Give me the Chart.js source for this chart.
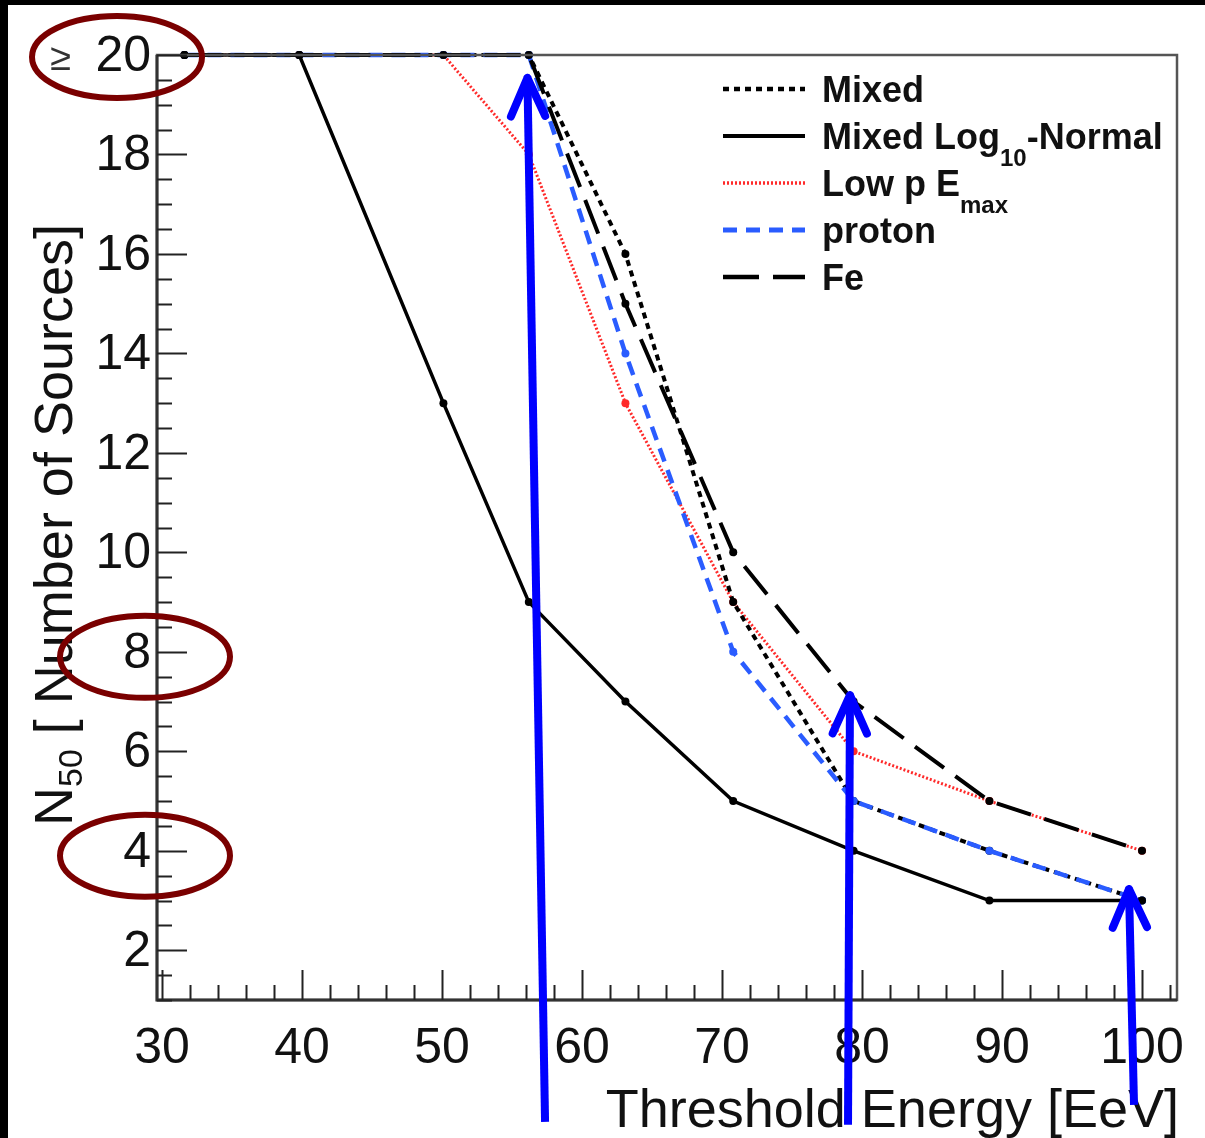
<!DOCTYPE html>
<html>
<head>
<meta charset="utf-8">
<script src="https://cdn.jsdelivr.net/npm/chart.js@4.4.1/dist/chart.umd.min.js"></script>
<style>
  html, body { margin: 0; padding: 0; background: #fff; }
  #wrap { width: 1205px; height: 1138px; }
</style>
</head>
<body>
<div id="wrap"><canvas id="chart" width="1205" height="1138"></canvas></div>
<script>
// N50 vs threshold energy, ROOT-style plot redrawn with Chart.js

// Data
const energies = [31.6, 39.8, 50.1, 56.2, 63.1, 70.8, 79.4, 89.1, 100];
const mixed = [20, 20, 20, 20, 16, 9, 5, 4, 3];
const mixedLogNormal = [20, 20, 13, 9, 7, 5, 4, 3, 3];
const lowPEmax = [20, 20, 20, 18, 13, 9, 6, 5, 4];
const proton = [20, 20, 20, 20, 14, 8, 5, 4, 3];
const fe = [20, 20, 20, 20, 15, 10, 7, 5, 4];

// Axes
const xTicks = [30, 40, 50, 60, 70, 80, 90, 100];
const yTicks = [2, 4, 6, 8, 10, 12, 14, 16, 18, 20];
const xTitle = 'Threshold Energy [EeV]';

// Highlighted y labels (red ovals) and arrows (in data units)
const circledTicks = [20, 8, 4];
const arrows = [
    { from: [57.36, -1.45], to: [56.1, 19.54] },
    { from: [79.0, -1.51], to: [79.14, 7.13] },
    { from: [99.43, -1.11], to: [99.07, 3.23] }
];

const FONT = '"Liberation Sans", Arial, Helvetica, sans-serif';

function pts(values) {
    return energies.map((e, i) => ({ x: e, y: values[i] }));
}

function series(label, values, color, dash, width, order) {
    return {
        label: label,
        data: pts(values),
        borderColor: color,
        backgroundColor: color,
        borderWidth: width,
        borderDash: dash,
        pointRadius: 4,
        pointBorderWidth: 0,
        pointBackgroundColor: color,
        tension: 0,
        clip: false,
        order: order
    };
}

// legend label parts: [text, isSubscript]
const legendParts = [
    [['Mixed', false]],
    [['Mixed Log', false], ['10', true], ['-Normal', false]],
    [['Low p E', false], ['max', true]],
    [['proton', false]],
    [['Fe', false]]
];

const rootStyle = {
    id: 'rootStyle',
    beforeDraw(chart) {
        const ctx = chart.ctx;
        ctx.save();
        ctx.fillStyle = '#fff';
        ctx.fillRect(0, 0, chart.width, chart.height);
        ctx.fillStyle = '#000';
        ctx.fillRect(0, 0, chart.width, 5);
        ctx.fillRect(0, 0, 8, chart.height);
        ctx.restore();
    },
    afterDraw(chart) {
        const ctx = chart.ctx;
        const xs = chart.scales.x, ys = chart.scales.y;
        const a = chart.chartArea;
        ctx.save();

        // frame
        ctx.strokeStyle = '#555';
        ctx.lineWidth = 2.5;
        ctx.strokeRect(a.left, a.top, a.right - a.left, a.bottom - a.top);
        ctx.strokeStyle = '#333';
        ctx.lineWidth = 3;
        ctx.beginPath();
        ctx.moveTo(a.left, a.top);
        ctx.lineTo(a.left, a.bottom);
        ctx.lineTo(a.right, a.bottom);
        ctx.stroke();

        // ticks
        ctx.strokeStyle = '#222';
        ctx.lineWidth = 2;
        ctx.beginPath();
        for (let v = 1; v <= 20; v += 0.5) {
            const y = Math.round(ys.getPixelForValue(v)) + 0.5;
            const len = (v % 2 === 0) ? 30 : 15;
            ctx.moveTo(a.left, y);
            ctx.lineTo(a.left + len, y);
        }
        for (let v = 30; v <= 102; v += 2) {
            const x = Math.round(xs.getPixelForValue(v)) + 0.5;
            const len = (v % 10 === 0) ? 30 : 15;
            ctx.moveTo(x, a.bottom);
            ctx.lineTo(x, a.bottom - len);
        }
        ctx.stroke();

        // tick labels
        ctx.fillStyle = '#111';
        ctx.font = '50px ' + FONT;
        ctx.textAlign = 'right';
        ctx.textBaseline = 'middle';
        yTicks.forEach(v => {
            ctx.fillText(String(v), 151, ys.getPixelForValue(v) + 2);
        });
        ctx.font = '38px ' + FONT;
        ctx.fillStyle = '#333';
        ctx.fillText('\u2265', 71, ys.getPixelForValue(20) + 5);
        ctx.fillStyle = '#111';
        ctx.font = '50px ' + FONT;
        ctx.textAlign = 'center';
        xTicks.forEach(v => {
            ctx.fillText(String(v), xs.getPixelForValue(v), 1049);
        });

        // x title
        ctx.font = '54px ' + FONT;
        ctx.textAlign = 'right';
        ctx.textBaseline = 'alphabetic';
        ctx.fillText(xTitle, a.right + 2, 1127);

        // y title (rotated, with subscript)
        ctx.save();
        const big = '54px ' + FONT, small = '34px ' + FONT;
        ctx.font = big;
        const wN = ctx.measureText('N').width;
        const wRest = ctx.measureText(' [ Number of Sources]').width;
        ctx.font = small;
        const wSub = ctx.measureText('50').width;
        const total = wN + wSub + wRest;
        ctx.translate(72, 224 + total);
        ctx.rotate(-Math.PI / 2);
        ctx.textAlign = 'left';
        ctx.font = big;
        ctx.fillText('N', 0, 0);
        ctx.font = small;
        ctx.fillText('50', wN, 10);
        ctx.font = big;
        ctx.fillText(' [ Number of Sources]', wN + wSub, 0);
        ctx.restore();

        // legend
        chart.data.datasets.forEach((ds, i) => {
            const cy = 89 + i * 47;
            ctx.save();
            ctx.strokeStyle = ds.borderColor;
            ctx.lineWidth = ds.borderWidth + 0.5;
            ctx.setLineDash(ds.borderDash || []);
            ctx.beginPath();
            ctx.moveTo(723, cy);
            ctx.lineTo(805, cy);
            ctx.stroke();
            ctx.restore();
            let x = 822;
            ctx.fillStyle = '#111';
            ctx.textAlign = 'left';
            ctx.textBaseline = 'alphabetic';
            legendParts[i].forEach(([t, sub]) => {
                ctx.font = (sub ? 'bold 24px ' : 'bold 36px ') + FONT;
                ctx.fillText(t, x, cy + 13 + (sub ? 17 : 0));
                x += ctx.measureText(t).width;
            });
        });

        // red ovals around selected y labels
        ctx.strokeStyle = '#7a0000';
        ctx.lineWidth = 6;
        circledTicks.forEach(v => {
            const cx = v === 20 ? 117 : 145;
            const cy = ys.getPixelForValue(v) + (v === 20 ? 2 : 5);
            ctx.beginPath();
            ctx.ellipse(cx, cy, 85, 41, 0, 0, Math.PI * 2);
            ctx.stroke();
        });

        // blue arrows
        ctx.strokeStyle = '#0000ff';
        ctx.lineWidth = 8;
        arrows.forEach(ar => {
            const x0 = xs.getPixelForValue(ar.from[0]), y0 = ys.getPixelForValue(ar.from[1]);
            const x1 = xs.getPixelForValue(ar.to[0]), y1 = ys.getPixelForValue(ar.to[1]);
            const ang = Math.atan2(y1 - y0, x1 - x0);
            ctx.lineCap = 'butt';
            ctx.beginPath();
            ctx.moveTo(x0, y0);
            ctx.lineTo(x1, y1);
            ctx.stroke();
            ctx.lineCap = 'round';
            ctx.beginPath();
            [-0.42, 0.42].forEach(d => {
                ctx.moveTo(x1, y1);
                ctx.lineTo(x1 - 42 * Math.cos(ang + d), y1 - 42 * Math.sin(ang + d));
            });
            ctx.stroke();
        });

        ctx.restore();
    }
};

new Chart(document.getElementById('chart').getContext('2d'), {
    type: 'line',
    data: {
        datasets: [
            series('Mixed', mixed, '#000', [6, 5], 4, 3),
            series('Mixed Log10-Normal', mixedLogNormal, '#000', [], 3.5, 0),
            series('Low p Emax', lowPEmax, '#ff2a2a', [2, 2], 3, 4),
            series('proton', proton, '#2a5cff', [14, 9], 4.5, 2),
            series('Fe', fe, '#000', [36, 14], 4, 1)
        ]
    },
    options: {
        responsive: false,
        animation: false,
        devicePixelRatio: 1,
        layout: { padding: { left: 157, right: 28, top: 55, bottom: 138 } },
        plugins: { legend: { display: false }, tooltip: { enabled: false } },
        scales: {
            x: { type: 'linear', min: 29.64, max: 102.5, display: false },
            y: { type: 'linear', min: 1, max: 20, display: false }
        }
    },
    plugins: [rootStyle]
});
</script>
</body>
</html>
